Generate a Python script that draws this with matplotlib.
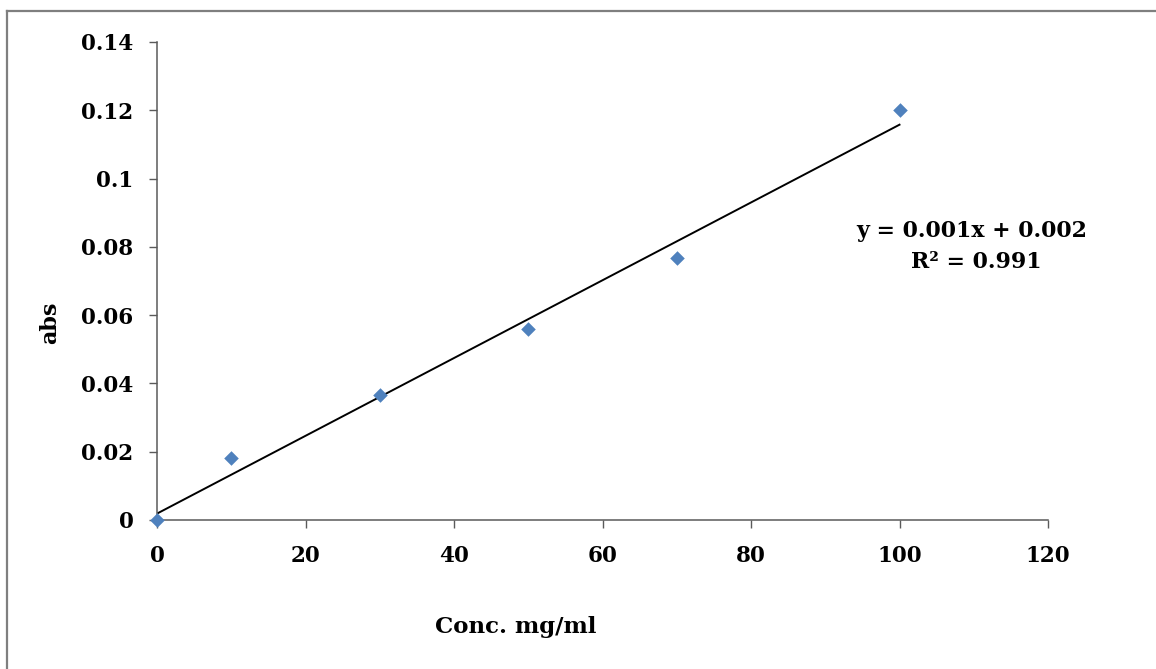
import numpy as np
import matplotlib
matplotlib.use("Agg")
import matplotlib.pyplot as plt
from matplotlib.lines import Line2D

conc = [0, 10, 30, 50, 70, 100]
absorbance = [0.0, 0.0182, 0.0366, 0.0558, 0.0768, 0.120]
x_ticks = [0, 20, 40, 60, 80, 100, 120]
y_ticks = [0, 0.02, 0.04, 0.06, 0.08, 0.1, 0.12, 0.14]
y_tick_labels = ["0", "0.02", "0.04", "0.06", "0.08", "0.1", "0.12", "0.14"]
equation = "y = 0.001x + 0.002"
r2_text = "R² = 0.991"

FONT = "DejaVu Serif"

fig = plt.figure(figsize=(11.56, 6.69), dpi=100)
ax = fig.add_axes([157/1156, 1-520/669, (1048-157)/1156, (520-42)/669])

ax.scatter(conc, absorbance, marker="D", s=55, color="#4F81BD", zorder=3, clip_on=False, linewidths=0)
coef = np.polyfit(conc, absorbance, 1)
xs = np.array([min(conc), max(conc)])
ax.plot(xs, np.polyval(coef, xs), color="black", lw=1.4, zorder=2)

ax.set_xlim(0, 120)
ax.set_ylim(0, 0.14)
ax.set_xticks(x_ticks)
ax.set_xticklabels([str(t) for t in x_ticks])
ax.set_yticks(y_ticks)
ax.set_yticklabels(y_tick_labels)
for s in ["top", "right"]:
    ax.spines[s].set_visible(False)
for s in ["left", "bottom"]:
    ax.spines[s].set_color("#5a5a5a")
    ax.spines[s].set_linewidth(1.1)
ax.tick_params(axis="both", direction="out", length=6, width=1, color="#5a5a5a")
ax.tick_params(axis="y", pad=11)
ax.tick_params(axis="x", pad=12)
for lab in ax.get_xticklabels() + ax.get_yticklabels():
    lab.set_fontfamily(FONT)
    lab.set_fontweight("bold")
    lab.set_fontsize(15.5)

fig.text(516/1156, 1-627/669, "Conc. mg/ml", family=FONT, weight="bold", fontsize=16.5,
         ha="center", va="center")
fig.text(50/1156, 1-323/669, "abs", family=FONT, weight="bold", fontsize=16,
         ha="center", va="center", rotation=90)
fig.text(972/1156, 1-231/669, equation, family=FONT, weight="bold", fontsize=15.8,
         ha="center", va="center")
fig.text(976/1156, 1-262/669, r2_text, family=FONT, weight="bold", fontsize=15.8,
         ha="center", va="center")

# outer border lines (top and left)
fig.add_artist(Line2D([7/1156, 1], [1-11/669, 1-11/669], transform=fig.transFigure,
                      color="#7f7f7f", lw=1.6))
fig.add_artist(Line2D([7/1156, 7/1156], [0, 1-11/669], transform=fig.transFigure,
                      color="#7f7f7f", lw=1.6))

fig.savefig("out.png", dpi=100, facecolor="white")
